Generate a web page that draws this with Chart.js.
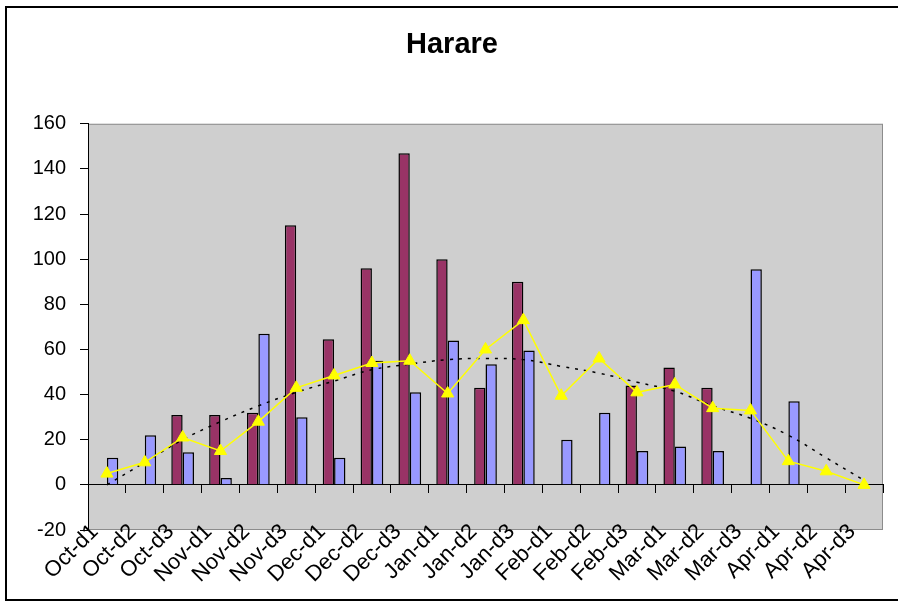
<!DOCTYPE html>
<html>
<head>
<meta charset="utf-8">
<script src="https://cdn.jsdelivr.net/npm/chart.js@4.4.1/dist/chart.umd.min.js"></script>
<style>
  html, body { margin: 0; padding: 0; background: #fff; }
  canvas { display: block; }
</style>
</head>
<body>
<canvas id="harare" width="898" height="603"></canvas>
<script>
// categories (dekads)
const labels = ['Oct-d1', 'Oct-d2', 'Oct-d3', 'Nov-d1', 'Nov-d2', 'Nov-d3', 'Dec-d1', 'Dec-d2', 'Dec-d3',
  'Jan-d1', 'Jan-d2', 'Jan-d3', 'Feb-d1', 'Feb-d2', 'Feb-d3', 'Mar-d1', 'Mar-d2', 'Mar-d3',
  'Apr-d1', 'Apr-d2', 'Apr-d3'];

// values
const maroonBars = [null, null, 31, 31, 32, 115, 64.5, 96, 147, 100, 43, 90, null, null, 44, 52, 43, null, null, null, null];
const blueBars = [12, 22, 14.5, 3, 67, 30, 12, 55, 41, 64, 53.5, 59.5, 20, 32, 15, 17, 15, 95.5, 37, null, null];
const yellowLine = [5, 10, 21, 15, 28, 43, 48.5, 54, 55, 40.5, 60, 73, 39.5, 56, 41, 44.5, 34, 33, 10.5, 6, 0];
const trendLine = [0, 10, 20, 28, 35, 41, 46, 51, 53.5, 55.5, 56, 55.5, 52.5, 49.5, 45.5, 41.5, 35, 29.5, 22, 12, 2];

const yTicks = { min: -20, max: 160, step: 20 };
const font = 'Liberation Sans, Arial, sans-serif';

// white page, outer frame, grey plot area
const background = {
  id: 'background',
  beforeDraw(chart) {
    const ctx = chart.ctx;
    const a = chart.chartArea;
    ctx.save();
    ctx.fillStyle = '#fff';
    ctx.fillRect(0, 0, chart.width, chart.height);
    ctx.strokeStyle = '#000';
    ctx.lineWidth = 2;
    ctx.strokeRect(6, 7, chart.width + 10, chart.height - 10);
    ctx.fillStyle = '#cfcfcf';
    ctx.fillRect(a.left, a.top, a.right - a.left, a.bottom - a.top);
    ctx.strokeStyle = '#8c8c8c';
    ctx.lineWidth = 1;
    ctx.strokeRect(a.left + 0.5, a.top + 0.5, a.right - a.left - 1, a.bottom - a.top - 1);
    ctx.restore();
  }
};

new Chart(document.getElementById('harare'), {
  type: 'bar',
  data: {
    labels: labels,
    datasets: [
      {
        type: 'line',
        data: yellowLine,
        borderColor: '#ffff00',
        backgroundColor: '#ffff00',
        borderWidth: 1.5,
        pointStyle: 'triangle',
        pointRadius: 7,
        pointBorderWidth: 1,
        order: 0
      },
      {
        type: 'line',
        data: trendLine,
        borderColor: '#000',
        borderWidth: 1.5,
        borderDash: [3, 6],
        pointRadius: 0,
        tension: 0.4,
        order: 1
      },
      {
        data: maroonBars,
        backgroundColor: '#993366',
        borderColor: '#000',
        borderWidth: 1.5,
        borderSkipped: 'start',
        order: 2
      },
      {
        data: blueBars,
        backgroundColor: '#9999ff',
        borderColor: '#000',
        borderWidth: 1.5,
        borderSkipped: 'start',
        order: 2
      }
    ]
  },
  options: {
    responsive: false,
    animation: false,
    devicePixelRatio: 1,
    categoryPercentage: 0.6,
    barPercentage: 1.0,
    layout: { padding: { left: 21, right: 15, top: 0, bottom: 73 } },
    plugins: {
      legend: { display: false },
      tooltip: { enabled: false },
      title: {
        display: true,
        text: 'Harare',
        color: '#000',
        font: { family: font, size: 29, weight: 'bold' },
        padding: { top: 28, bottom: 61 }
      }
    },
    scales: {
      x: {
        position: { y: 0 },
        grid: { drawOnChartArea: false, drawTicks: true, tickLength: 8, color: '#000', offset: true },
        border: { display: true, color: '#000', width: 1 },
        ticks: {
          autoSkip: false,
          maxRotation: 45,
          minRotation: 45,
          labelOffset: -12,
          padding: 26,
          color: '#000',
          font: { family: font, size: 22 }
        },
        // labels hang below the zero line, keep them from squeezing the plot
        afterFit(scale) {
          scale.paddingLeft = 0;
          scale.paddingRight = 0;
        }
      },
      y: {
        min: yTicks.min,
        max: yTicks.max,
        grid: { drawOnChartArea: false, drawTicks: true, tickLength: 8, color: '#000' },
        border: { display: true, color: '#000', width: 1 },
        ticks: {
          stepSize: yTicks.step,
          padding: 14,
          color: '#000',
          font: { family: font, size: 20 }
        },
        afterFit(scale) { scale.width = 67; }
      }
    }
  },
  plugins: [background]
});
</script>
</body>
</html>
